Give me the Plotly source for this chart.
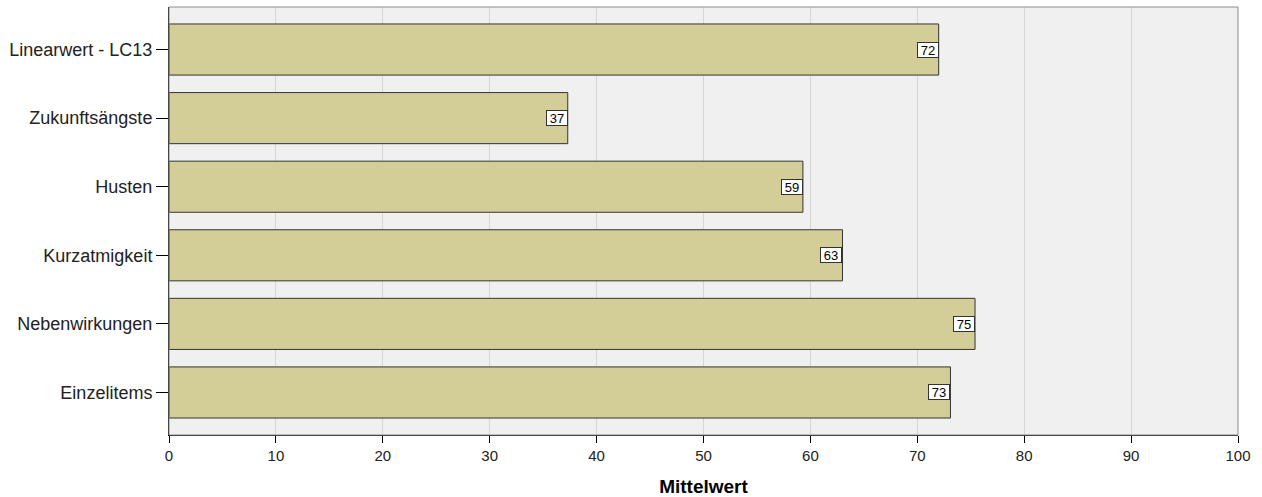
import plotly.graph_objects as go

categories = ["Linearwert - LC13", "Zukunftsängste", "Husten", "Kurzatmigkeit", "Nebenwirkungen", "Einzelitems"]
values = [72.0, 37.3, 59.3, 63.0, 75.4, 73.1]
labels = ["72", "37", "59", "63", "75", "73"]
x_ticks = [0, 10, 20, 30, 40, 50, 60, 70, 80, 90, 100]

fig = go.Figure()
fig.add_trace(go.Bar(
    y=categories, x=values, orientation="h",
    marker=dict(color="#d3ce98", line=dict(color="#333333", width=1)),
    width=0.745, hoverinfo="skip",
))

for c, v, t in zip(categories, values, labels):
    fig.add_annotation(
        x=v, y=c, xref="x", yref="y", text=t, showarrow=False,
        xanchor="right", yanchor="middle",
        font=dict(family="Liberation Sans, Arial", size=13, color="#000000"),
        bgcolor="#ffffff", bordercolor="#333333", borderwidth=1, borderpad=1,
        width=18, height=12,
    )

# frame (top/right gray)
fig.add_shape(type="rect", xref="paper", yref="paper", x0=0, x1=1, y0=0, y1=1,
              line=dict(color="#8c8c8c", width=1), layer="above")

fig.update_layout(
    width=1262, height=497,
    margin=dict(l=169, r=24, t=7, b=62),
    paper_bgcolor="#ffffff", plot_bgcolor="#f0f0f0",
    showlegend=False,
    font=dict(family="Liberation Sans, Arial", size=15, color="#222222"),
    xaxis=dict(
        range=[0, 100], tickvals=x_ticks, ticktext=[str(v) for v in x_ticks],
        showgrid=True, gridcolor="#d6d6d6", gridwidth=1,
        ticks="outside", ticklen=7, tickcolor="#000000", tickwidth=1,
        showline=True, linecolor="#000000", linewidth=1,
        zeroline=False, automargin=False,
        tickfont=dict(size=15, color="#222222"),
        title=dict(text="<b>Mittelwert</b>", font=dict(size=19, color="#000000"), standoff=17),
    ),
    yaxis=dict(
        categoryorder="array", categoryarray=categories[::-1],
        range=[-0.62, 5.62],
        showgrid=False, automargin=False,
        ticks="outside", ticklen=12, tickcolor="#000000", tickwidth=1,
        showline=True, linecolor="#000000", linewidth=1,
        tickfont=dict(size=18, color="#222222"),
        ticklabelstandoff=0,
    ),
)

fig.write_html("out.html", config={"displayModeBar": False},
               post_script="document.body.style.margin='0';")
